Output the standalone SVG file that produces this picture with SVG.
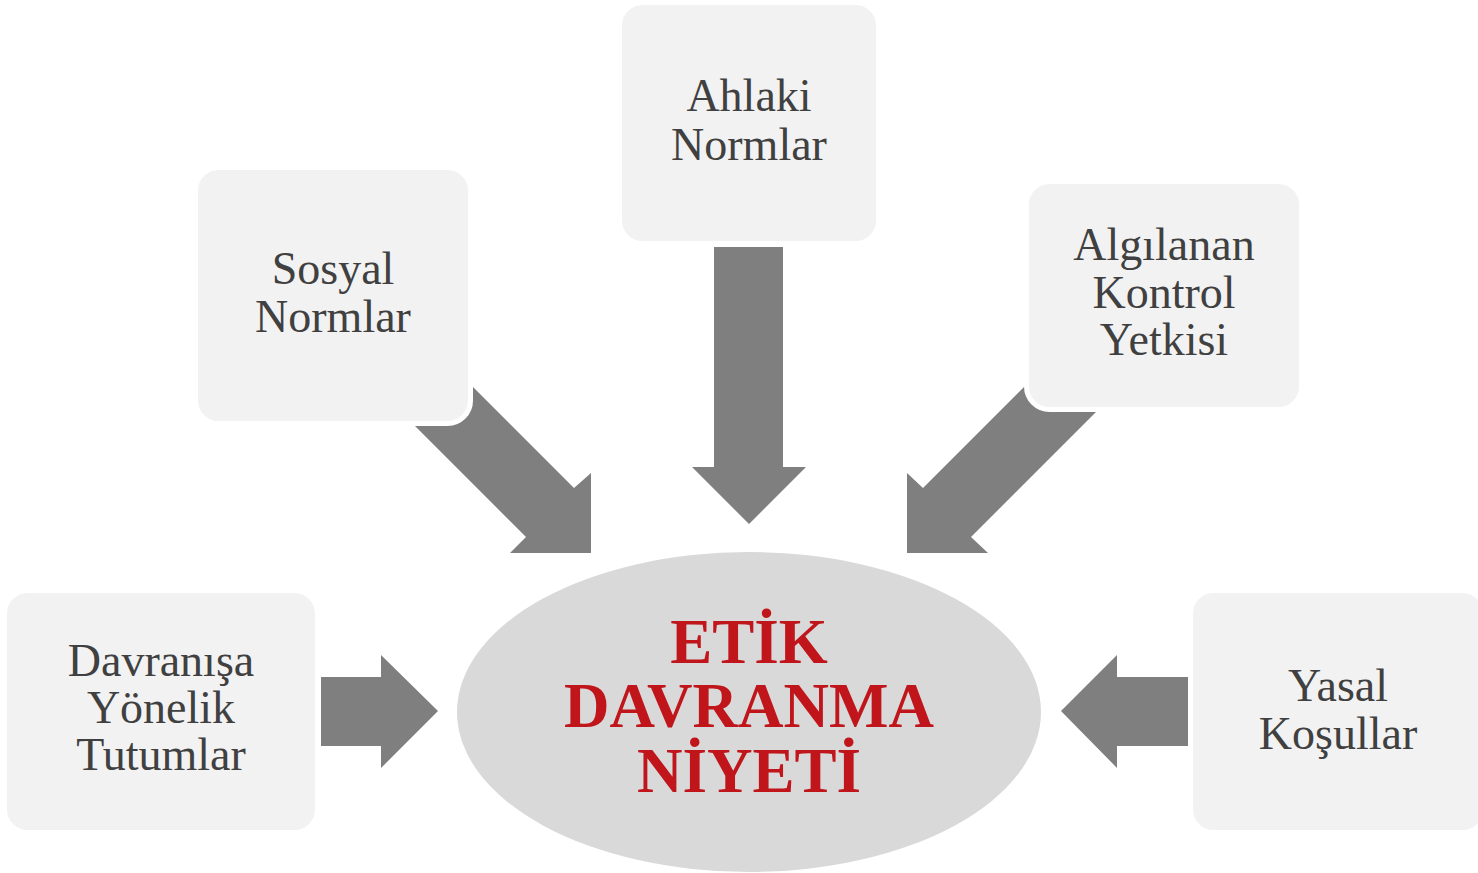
<svg xmlns="http://www.w3.org/2000/svg" width="1478" height="873" viewBox="0 0 1478 873">
<style>
.box{fill:#f2f2f2;stroke:#ffffff;stroke-width:5}
.arrow{fill:#7f7f7f}
.lbl{font-family:"Liberation Serif",serif;font-size:46px;fill:#404040;text-anchor:middle}
.main{font-family:"Liberation Serif",serif;font-size:63px;font-weight:bold;fill:#c0151a;text-anchor:middle}
</style>
<rect width="1478" height="873" fill="#ffffff"/>
<g id="connectors">
<polygon class="arrow" points="380,391 466,380 574,488 591,473 591,553 510,553 526,537"/>
<polygon class="arrow" points="714,247 783,247 783,467 806,467 749,524 692,467 714,467"/>
<polygon class="arrow" points="1130,378 1032,379 923,488 907,473 907,553 988,553 971,537"/>
<polygon class="arrow" points="321,677 381,677 381,655 438,711 381,768 381,746 321,746"/>
<polygon class="arrow" points="1188,677 1117,677 1117,655 1061,711 1117,768 1117,746 1188,746"/>
</g>
<g id="node-sosyal">
<rect class="box" x="195.5" y="167.5" width="275" height="256" rx="23"/>
<text class="lbl" x="333" y="284">Sosyal</text>
<text class="lbl" x="333" y="332">Normlar</text>
</g>
<g id="node-ahlaki">
<rect class="box" x="619.5" y="2.5" width="259" height="241" rx="23"/>
<text class="lbl" x="749" y="111">Ahlaki</text>
<text class="lbl" x="749" y="160">Normlar</text>
</g>
<g id="node-algilanan">
<rect class="box" x="1026.5" y="181.5" width="275" height="228" rx="23"/>
<text class="lbl" x="1164" y="260">Algılanan</text>
<text class="lbl" x="1164" y="308">Kontrol</text>
<text class="lbl" x="1164" y="355">Yetkisi</text>
</g>
<g id="node-davranisa">
<rect class="box" x="4.5" y="590.5" width="313" height="242" rx="23"/>
<text class="lbl" x="161" y="676">Davranışa</text>
<text class="lbl" x="161" y="723">Yönelik</text>
<text class="lbl" x="161" y="770">Tutumlar</text>
</g>
<g id="node-yasal">
<rect class="box" x="1190.5" y="590.5" width="295" height="242" rx="23"/>
<text class="lbl" x="1338" y="701">Yasal</text>
<text class="lbl" x="1338" y="749">Koşullar</text>
</g>
<g id="node-etik">
<ellipse cx="749" cy="712" rx="292" ry="160" fill="#d9d9d9"/>
<text class="main" x="749" y="663">ETİK</text>
<text class="main" x="749" y="727">DAVRANMA</text>
<text class="main" x="749" y="792">NİYETİ</text>
</g>
</svg>
